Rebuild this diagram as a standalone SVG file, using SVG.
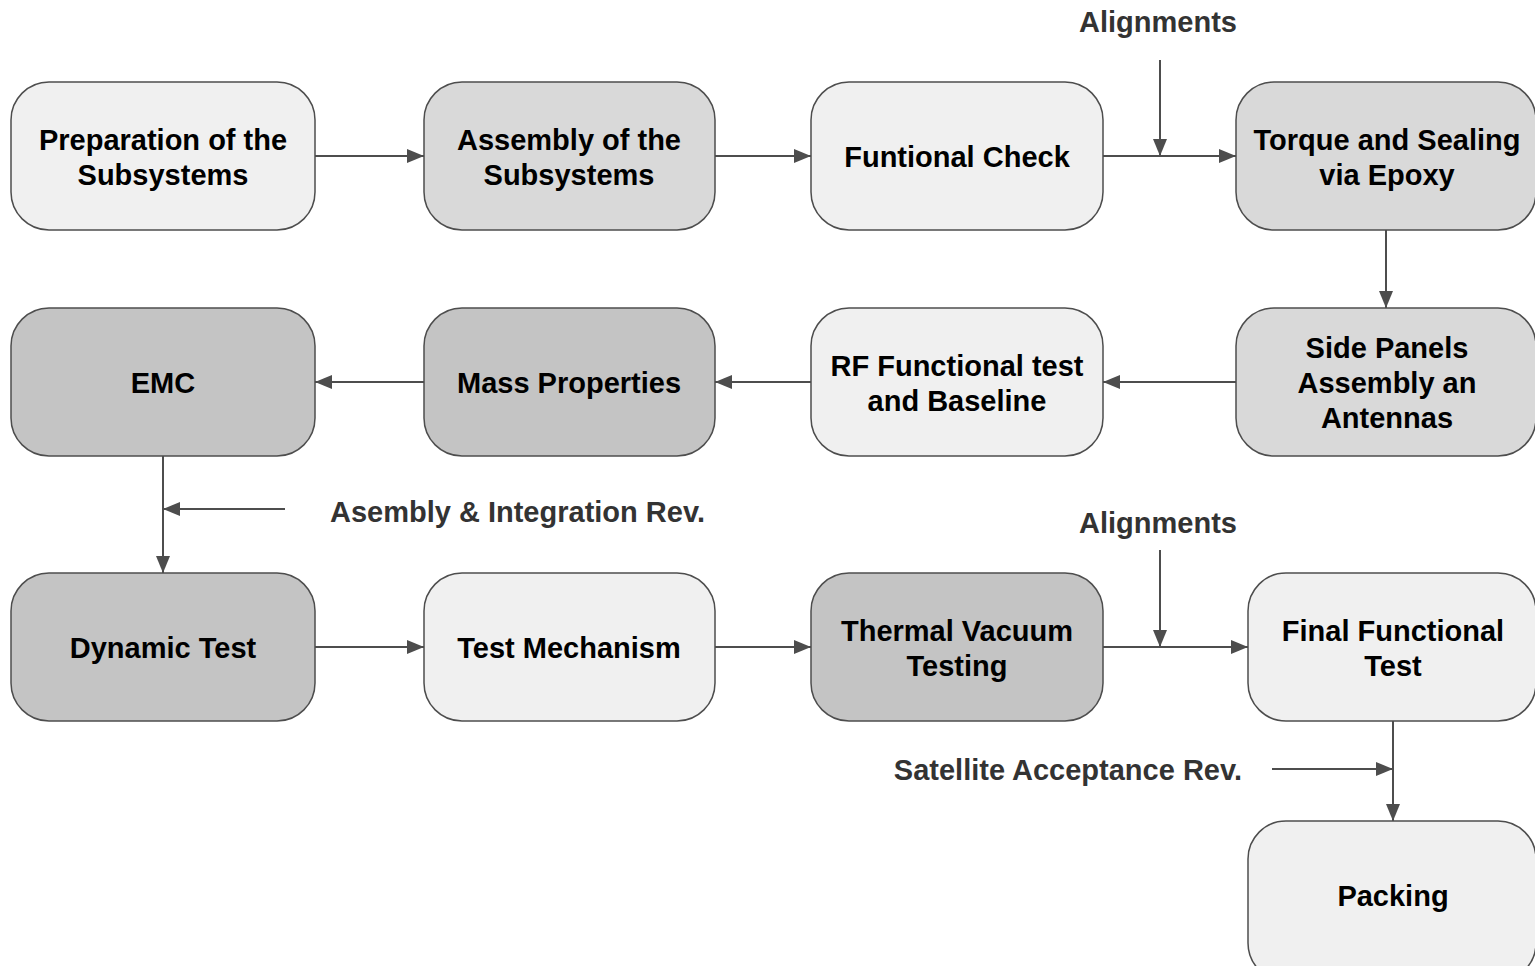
<svg xmlns="http://www.w3.org/2000/svg" width="1535" height="966" viewBox="0 0 1535 966">
<defs>
<style>
.n{stroke:#4d4d4d;stroke-width:1.5}
.l{fill:#f0f0f0}
.m{fill:#d9d9d9}
.d{fill:#c4c4c4}
.t{font-family:"Liberation Sans",Arial,sans-serif;font-weight:bold;font-size:29px;fill:#000;text-anchor:middle}
.lb{font-family:"Liberation Sans",Arial,sans-serif;font-weight:bold;font-size:29px;fill:#333}
</style>
<marker id="b" viewBox="0 0 17 14" refX="17" refY="7" markerWidth="17" markerHeight="14" markerUnits="userSpaceOnUse" orient="auto">
<path d="M0,0 L17,7 L0,14 z" fill="#4d4d4d"/>
</marker>
</defs>
<rect width="1535" height="966" fill="#fff"/>
<g id="connectors" stroke="#4d4d4d" stroke-width="2" fill="none">
<path d="M315,156 H424" marker-end="url(#b)"/>
<path d="M715,156 H811" marker-end="url(#b)"/>
<path d="M1103,156 H1236" marker-end="url(#b)"/>
<path d="M1160,60 V156" marker-end="url(#b)"/>
<path d="M1386,230 V308" marker-end="url(#b)"/>
<path d="M1236,382 H1103" marker-end="url(#b)"/>
<path d="M811,382 H715" marker-end="url(#b)"/>
<path d="M424,382 H315" marker-end="url(#b)"/>
<path d="M163,456 V573" marker-end="url(#b)"/>
<path d="M285,509 H163" marker-end="url(#b)"/>
<path d="M315,647 H424" marker-end="url(#b)"/>
<path d="M715,647 H811" marker-end="url(#b)"/>
<path d="M1103,647 H1248" marker-end="url(#b)"/>
<path d="M1160,550 V647" marker-end="url(#b)"/>
<path d="M1393,721 V821" marker-end="url(#b)"/>
<path d="M1272,769 H1393" marker-end="url(#b)"/>
</g>
<g id="labels">
<text class="lb" x="1158" y="32" text-anchor="middle">Alignments</text>
<text class="lb" x="330" y="522">Asembly &amp; Integration Rev.</text>
<text class="lb" x="1158" y="533" text-anchor="middle">Alignments</text>
<text class="lb" x="1242" y="780" text-anchor="end">Satellite Acceptance Rev.</text>
</g>
<g id="n1"><rect class="n l" x="11" y="82" width="304" height="148" rx="38"/><text class="t" x="163" y="150">Preparation of the</text><text class="t" x="163" y="185">Subsystems</text></g>
<g id="n2"><rect class="n m" x="424" y="82" width="291" height="148" rx="38"/><text class="t" x="569" y="150">Assembly of the</text><text class="t" x="569" y="185">Subsystems</text></g>
<g id="n3"><rect class="n l" x="811" y="82" width="292" height="148" rx="38"/><text class="t" x="957" y="167">Funtional Check</text></g>
<g id="n4"><rect class="n m" x="1236" y="82" width="300" height="148" rx="38"/><text class="t" x="1387" y="150">Torque and Sealing</text><text class="t" x="1387" y="185">via Epoxy</text></g>
<g id="n5"><rect class="n m" x="1236" y="308" width="300" height="148" rx="38"/><text class="t" x="1387" y="358">Side Panels</text><text class="t" x="1387" y="393">Assembly an</text><text class="t" x="1387" y="428">Antennas</text></g>
<g id="n6"><rect class="n l" x="811" y="308" width="292" height="148" rx="38"/><text class="t" x="957" y="376">RF Functional test</text><text class="t" x="957" y="411">and Baseline</text></g>
<g id="n7"><rect class="n d" x="424" y="308" width="291" height="148" rx="38"/><text class="t" x="569" y="393">Mass Properties</text></g>
<g id="n8"><rect class="n d" x="11" y="308" width="304" height="148" rx="38"/><text class="t" x="163" y="393">EMC</text></g>
<g id="n9"><rect class="n d" x="11" y="573" width="304" height="148" rx="38"/><text class="t" x="163" y="658">Dynamic Test</text></g>
<g id="n10"><rect class="n l" x="424" y="573" width="291" height="148" rx="38"/><text class="t" x="569" y="658">Test Mechanism</text></g>
<g id="n11"><rect class="n d" x="811" y="573" width="292" height="148" rx="38"/><text class="t" x="957" y="641">Thermal Vacuum</text><text class="t" x="957" y="676">Testing</text></g>
<g id="n12"><rect class="n l" x="1248" y="573" width="288" height="148" rx="38"/><text class="t" x="1393" y="641">Final Functional</text><text class="t" x="1393" y="676">Test</text></g>
<g id="n13"><rect class="n l" x="1248" y="821" width="288" height="160" rx="38"/><text class="t" x="1393" y="906">Packing</text></g>
</svg>
